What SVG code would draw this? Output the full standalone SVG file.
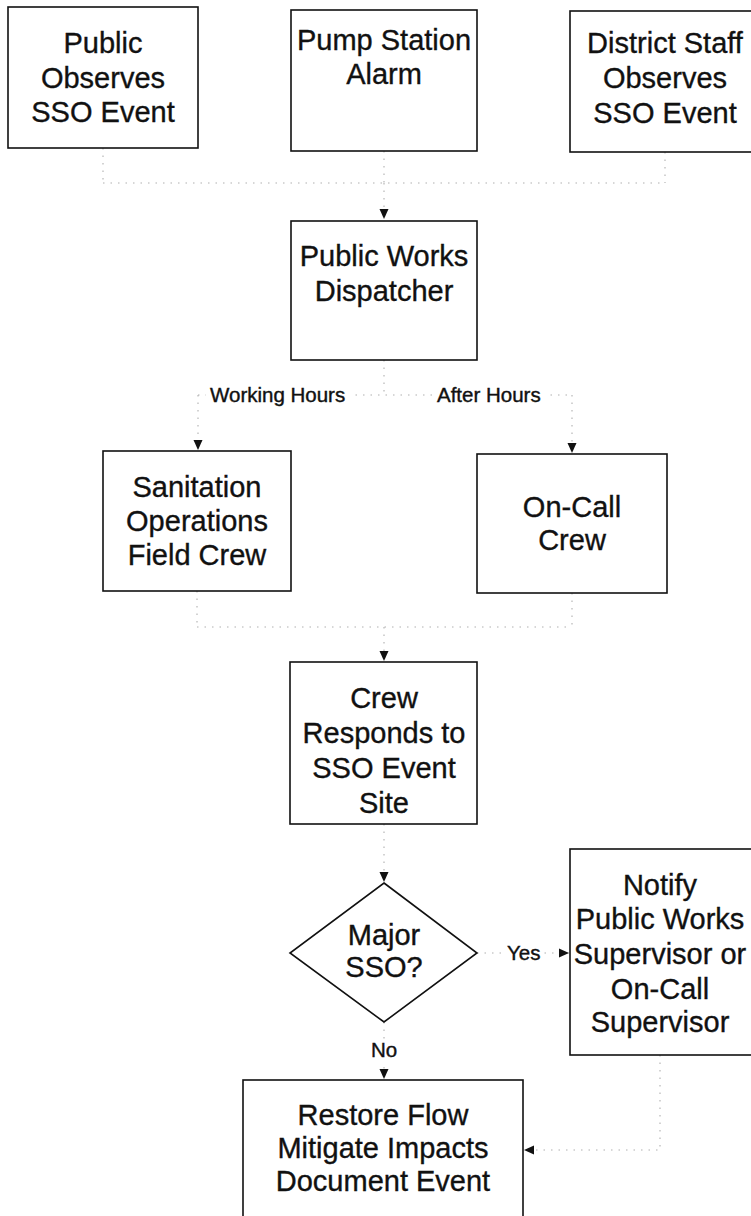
<svg xmlns="http://www.w3.org/2000/svg" width="751" height="1216" viewBox="0 0 751 1216">
  <style>
    .box { fill: #fff; stroke: #111; stroke-width: 1.6; }
    .t { font-family: "Liberation Sans", Arial, sans-serif; font-size: 29px; fill: #111; stroke: #111; stroke-width: 0.35; text-anchor: middle; }
    .lbl { font-family: "Liberation Sans", Arial, sans-serif; font-size: 20.5px; fill: #111; stroke: #111; stroke-width: 0.4; }
    .conn { fill: none; stroke: #b0b0b0; stroke-width: 1.1; stroke-dasharray: 1.5 6; }
  </style>
  <defs>
    <marker id="arrow" markerUnits="userSpaceOnUse" markerWidth="10" markerHeight="10" viewBox="0 0 10 10" refX="10" refY="5" orient="auto">
      <path d="M0,0.5 L10,5 L0,9.5 Z" fill="#111"/>
    </marker>
  </defs>

  <rect width="751" height="1216" fill="#fff"/>

  <!-- connectors -->
  <g id="connectors">
    <path class="conn" d="M103,148 V183 M384,151 V183 M665,152 V183 M103,183 H665"/>
    <path class="conn" d="M384,183 V219" marker-end="url(#arrow)"/>
    <path class="conn" d="M384,360 V395 M198,395 H572"/>
    <path class="conn" d="M198,395 V450" marker-end="url(#arrow)"/>
    <path class="conn" d="M572,395 V453" marker-end="url(#arrow)"/>
    <path class="conn" d="M197,591 V627 M572,593 V627 M197,627 H572"/>
    <path class="conn" d="M384,627 V661" marker-end="url(#arrow)"/>
    <path class="conn" d="M384,824 V882" marker-end="url(#arrow)"/>
    <path class="conn" d="M477,953 H569" marker-end="url(#arrow)"/>
    <path class="conn" d="M384,1022 V1079" marker-end="url(#arrow)"/>
    <path class="conn" d="M660,1055 V1150 H524" marker-end="url(#arrow)"/>
    <!-- branch labels -->
    <rect x="206" y="382" width="146" height="24" fill="#fff"/>
    <text class="lbl" x="210" y="402">Working Hours</text>
    <rect x="433" y="382" width="112" height="24" fill="#fff"/>
    <text class="lbl" x="437" y="402">After Hours</text>
    <rect x="504" y="940" width="40" height="24" fill="#fff"/>
    <text class="lbl" x="507" y="960">Yes</text>
    <rect x="366" y="1040" width="34" height="22" fill="#fff"/>
    <text class="lbl" x="384" y="1057" text-anchor="middle">No</text>
  </g>

  <g id="public-observes">
    <rect class="box" x="8" y="7" width="190" height="141"/>
    <text class="t" x="103" y="53">Public</text>
    <text class="t" x="103" y="88">Observes</text>
    <text class="t" x="103" y="122">SSO Event</text>
  </g>

  <g id="pump-station-alarm">
    <rect class="box" x="291" y="10" width="186" height="141"/>
    <text class="t" x="384" y="50">Pump Station</text>
    <text class="t" x="384" y="84">Alarm</text>
  </g>

  <g id="district-staff">
    <rect class="box" x="570" y="11" width="190" height="141"/>
    <text class="t" x="665" y="53">District Staff</text>
    <text class="t" x="665" y="88">Observes</text>
    <text class="t" x="665" y="123">SSO Event</text>
  </g>

  <g id="dispatcher">
    <rect class="box" x="291" y="221" width="186" height="139"/>
    <text class="t" x="384" y="266">Public Works</text>
    <text class="t" x="384" y="301">Dispatcher</text>
  </g>

  <g id="sanitation-crew">
    <rect class="box" x="103" y="451" width="188" height="140"/>
    <text class="t" x="197" y="497">Sanitation</text>
    <text class="t" x="197" y="531">Operations</text>
    <text class="t" x="197" y="565">Field Crew</text>
  </g>

  <g id="on-call-crew">
    <rect class="box" x="477" y="454" width="190" height="139"/>
    <text class="t" x="572" y="517">On-Call</text>
    <text class="t" x="572" y="550">Crew</text>
  </g>

  <g id="crew-responds">
    <rect class="box" x="290" y="662" width="187" height="162"/>
    <text class="t" x="384" y="708">Crew</text>
    <text class="t" x="384" y="743">Responds to</text>
    <text class="t" x="384" y="778">SSO Event</text>
    <text class="t" x="384" y="813">Site</text>
  </g>

  <g id="major-sso">
    <polygon class="box" points="384,883 477,953 384,1022 290,953" stroke-width="1.3"/>
    <text class="t" x="384" y="945">Major</text>
    <text class="t" x="384" y="977">SSO?</text>
  </g>

  <g id="notify-supervisor">
    <rect class="box" x="570" y="849" width="190" height="206"/>
    <text class="t" x="660" y="895">Notify</text>
    <text class="t" x="660" y="929">Public Works</text>
    <text class="t" x="660" y="964">Supervisor or</text>
    <text class="t" x="660" y="999">On-Call</text>
    <text class="t" x="660" y="1032">Supervisor</text>
  </g>

  <g id="restore-flow">
    <rect class="box" x="243" y="1080" width="280" height="150"/>
    <text class="t" x="383" y="1125">Restore Flow</text>
    <text class="t" x="383" y="1158">Mitigate Impacts</text>
    <text class="t" x="383" y="1191">Document Event</text>
  </g>
</svg>
